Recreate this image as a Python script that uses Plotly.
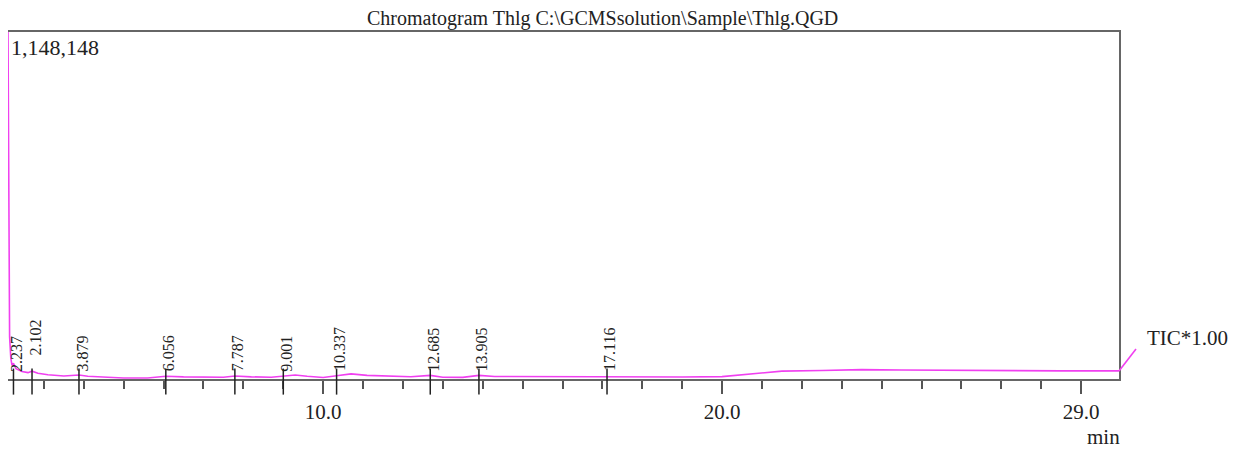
import plotly.graph_objects as go

# ---- data ----
ret_time = [2.10, 2.12, 2.14, 2.17, 2.20, 2.237, 2.30, 2.45, 2.60, 2.702, 2.85, 3.10, 3.50,
            3.879, 4.10, 4.60, 5.00, 5.60, 6.056, 6.50, 7.00, 7.50, 7.787, 8.20, 8.70,
            9.001, 9.30, 9.60, 10.00, 10.337, 10.70, 11.10, 11.60, 12.20, 12.685, 13.00,
            13.50, 13.905, 14.30, 15.50, 16.50, 17.116, 18.00, 19.00, 20.00, 20.50,
            21.00, 21.50, 22.50, 23.50, 24.50, 25.50, 26.50, 27.50, 28.50, 29.95]
intensity = [1148148, 420000, 140000, 70000, 45000, 52000, 34000, 25000, 21000, 26000,
             19000, 14000, 10000, 13000, 9000, 6000, 3500, 3500, 9000, 7000, 6500, 6000,
             10000, 7000, 6000, 9000, 13000, 9000, 5000, 11000, 17000, 12000, 9000, 7500,
             12000, 6000, 5500, 12000, 8500, 7500, 6500, 7500, 5500, 6500, 8000, 14000,
             22000, 26000, 28000, 31000, 30000, 29000, 27000, 27000, 27000, 27000]
peak_times = [2.237, 2.702, 3.879, 6.056, 7.787, 9.001, 10.337, 12.685, 13.905, 17.116]
peak_labels = ["2.237", "2.102", "3.879", "6.056", "7.787", "9.001", "10.337", "12.685",
               "13.905", "17.116"]
y_max = 1148148
x_ticks = [10, 20, 29]
x_tick_text = ["10.0", "20.0", "29.0"]

SERIF = "Liberation Serif"
fig = go.Figure()
fig.add_trace(go.Scatter(x=ret_time, y=intensity, mode="lines",
                         line=dict(color="#f040f0", width=1.6), hoverinfo="skip",
                         showlegend=False))

shapes = []
annotations = []
label_shift = {1: 16}
for i, (t, lab) in enumerate(zip(peak_times, peak_labels)):
    shapes.append(dict(type="line", xref="x", yref="paper", x0=t, x1=t, y0=-0.045,
                       y1=0.03, line=dict(color="#222", width=1.5)))
    annotations.append(dict(x=t, y=0.016, xref="x", yref="paper", text=lab,
                            textangle=-90, showarrow=False, xanchor="center",
                            yanchor="bottom", xshift=3, yshift=label_shift.get(i, 0),
                            font=dict(family=SERIF, size=16, color="#222")))

# leader line to TIC label
shapes.append(dict(type="line", xref="paper", yref="paper", x0=1.0, y0=0.023,
                   x1=1.0153, y1=0.0865, line=dict(color="#f040f0", width=1.6)))

annotations += [
    dict(text="Chromatogram Thlg C:\\GCMSsolution\\Sample\\Thlg.QGD", xref="paper",
         yref="paper", x=0.535, y=1.040, showarrow=False, xanchor="center",
         yanchor="middle", font=dict(family=SERIF, size=20, color="#222")),
    dict(text=f"{y_max:,}", xref="paper", yref="paper", x=0.0, y=1.0, xanchor="left",
         yanchor="top", xshift=1, yshift=-1, showarrow=False,
         font=dict(family=SERIF, size=22, color="#222")),
    dict(text="TIC*1.00", xref="paper", yref="paper", x=1.0235, y=0.118,
         xanchor="left", yanchor="middle", showarrow=False,
         font=dict(family=SERIF, size=21, color="#222")),
    dict(text="min", xref="paper", yref="paper", x=0.9856, y=-0.167,
         xanchor="center", yanchor="middle", showarrow=False,
         font=dict(family=SERIF, size=21, color="#222")),
]

fig.update_layout(
    width=1231, height=443,
    margin=dict(l=0, r=120, t=24, b=72),
    paper_bgcolor="white", plot_bgcolor="white",
    shapes=shapes, annotations=annotations,
    xaxis=dict(range=[2.1, 29.95], showgrid=False, zeroline=False,
               showline=True, linecolor="#666", linewidth=2, mirror=True,
               tickmode="array", tickvals=x_ticks, ticktext=x_tick_text,
               ticks="outside", ticklen=13, tickcolor="#555", tickwidth=1.5,
               tickfont=dict(family=SERIF, size=21, color="#222"),
               minor=dict(dtick=1, tick0=0, ticks="outside", ticklen=8,
                          tickcolor="#555", tickwidth=1.5)),
    yaxis=dict(range=[0, y_max], showgrid=False, zeroline=False, showline=True,
               linecolor="#666", linewidth=2, mirror=True, showticklabels=False,
               ticks=""),
)

fig.write_html("out.html")
